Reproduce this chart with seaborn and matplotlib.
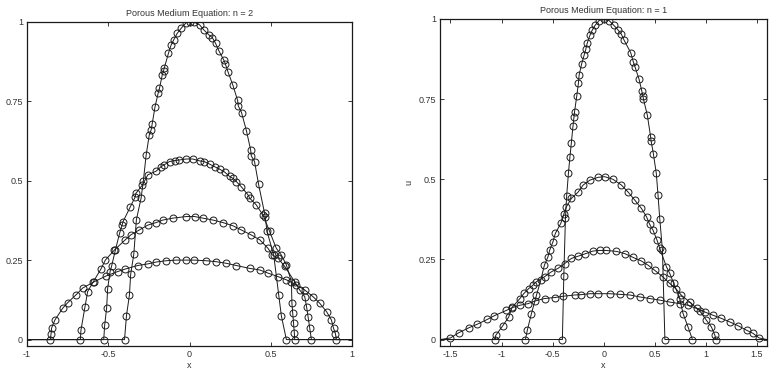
import numpy as np
import matplotlib
matplotlib.use('Agg')
import matplotlib.pyplot as plt
import seaborn as sns

# Left panel: n = 2
n2_a_x = [-0.40, -0.388, -0.37, -0.362, -0.343, -0.327, -0.298, -0.284, -0.267, -0.248, -0.236, -0.23, -0.212,
          -0.193, -0.185, -0.168, -0.160, -0.156, -0.13, -0.113, -0.097, -0.076, -0.05, -0.02, 0.0, 0.03, 0.062,
          0.088, 0.12, 0.14, 0.16, 0.18, 0.21, 0.22, 0.236, 0.267, 0.296, 0.30, 0.32, 0.35, 0.376, 0.38, 0.40,
          0.425, 0.462, 0.466, 0.477, 0.518, 0.549, 0.565, 0.596]
n2_a_u = [0, 0.075, 0.14, 0.206, 0.268, 0.377, 0.445, 0.50, 0.58, 0.643, 0.66, 0.678, 0.733,
          0.775, 0.79, 0.832, 0.845, 0.853, 0.90, 0.927, 0.943, 0.963, 0.98, 0.997, 1.0, 0.998, 0.99,
          0.974, 0.958, 0.95, 0.932, 0.909, 0.88, 0.868, 0.843, 0.80, 0.752, 0.735, 0.714, 0.657, 0.597, 0.578, 0.56,
          0.488, 0.397, 0.385, 0.34, 0.266, 0.14, 0.075, 0]

n2_b_x = [-0.528, -0.522, -0.51, -0.504, -0.489, -0.48, -0.456, -0.43, -0.415, -0.41, -0.366, -0.335, -0.33,
          -0.29, -0.257, -0.205, -0.175, -0.155, -0.123, -0.09, -0.062, -0.02, 0.02, 0.062, 0.09, 0.123, 0.154,
          0.185, 0.216, 0.247, 0.267, 0.288, 0.318, 0.36, 0.37, 0.41, 0.452, 0.493, 0.534, 0.565, 0.596, 0.627,
          0.630, 0.635, 0.64, 0.645, 0.647]
n2_b_u = [0, 0.046, 0.10, 0.16, 0.214, 0.23, 0.282, 0.335, 0.36, 0.37, 0.416, 0.448, 0.46,
          0.486, 0.518, 0.53, 0.544, 0.55, 0.56, 0.563, 0.565, 0.568, 0.568, 0.562, 0.56, 0.552, 0.544,
          0.536, 0.527, 0.513, 0.507, 0.497, 0.481, 0.455, 0.445, 0.424, 0.392, 0.34, 0.287, 0.266, 0.235, 0.182,
          0.115, 0.083, 0.052, 0.02, 0]

n2_c_x = [-0.672, -0.668, -0.643, -0.627, -0.592, -0.545, -0.518, -0.462, -0.395, -0.36, -0.308, -0.257, -0.206,
          -0.164, -0.103, -0.02, 0.031, 0.082, 0.144, 0.206, 0.267, 0.318, 0.38, 0.432, 0.483, 0.51, 0.545, 0.586,
          0.647, 0.678, 0.709, 0.72, 0.73, 0.74, 0.75]
n2_c_u = [0, 0.03, 0.104, 0.151, 0.182, 0.222, 0.25, 0.282, 0.314, 0.33, 0.345, 0.36, 0.368,
          0.376, 0.382, 0.387, 0.387, 0.382, 0.376, 0.368, 0.358, 0.345, 0.329, 0.314, 0.287, 0.266, 0.256, 0.23,
          0.182, 0.156, 0.135, 0.104, 0.07, 0.035, 0]

n2_d_x = [-0.857, -0.852, -0.849, -0.828, -0.78, -0.75, -0.70, -0.658, -0.586, -0.514, -0.442, -0.395, -0.319,
          -0.257, -0.205, -0.144, -0.082, -0.02, 0.03, 0.103, 0.164, 0.226, 0.288, 0.37, 0.432, 0.483, 0.545,
          0.596, 0.658, 0.709, 0.76, 0.80, 0.843, 0.873, 0.886, 0.898, 0.904]
n2_d_u = [0, 0.018, 0.036, 0.062, 0.099, 0.116, 0.14, 0.162, 0.182, 0.20, 0.214, 0.222, 0.233,
          0.238, 0.244, 0.248, 0.25, 0.25, 0.25, 0.248, 0.245, 0.24, 0.233, 0.224, 0.219, 0.209, 0.198,
          0.188, 0.172, 0.156, 0.135, 0.115, 0.088, 0.062, 0.036, 0.018, 0]

# Right panel: n = 1
n1_a_x = [-0.404, -0.39, -0.374, -0.362, -0.345, -0.33, -0.316, -0.30, -0.29, -0.285, -0.263, -0.247, -0.24,
          -0.215, -0.192, -0.175, -0.16, -0.133, -0.11, -0.084, -0.045, 0.0, 0.053, 0.10, 0.14, 0.174, 0.20,
          0.265, 0.29, 0.307, 0.347, 0.373, 0.385, 0.39, 0.428, 0.46, 0.465, 0.487, 0.516, 0.533, 0.55, 0.576, 0.60]
n1_a_u = [0, 0.198, 0.38, 0.448, 0.518, 0.57, 0.614, 0.666, 0.695, 0.71, 0.76, 0.80, 0.825,
          0.86, 0.886, 0.905, 0.925, 0.95, 0.966, 0.98, 0.995, 1.0, 0.995, 0.98, 0.966, 0.952, 0.934,
          0.895, 0.867, 0.851, 0.812, 0.776, 0.76, 0.75, 0.70, 0.633, 0.62, 0.58, 0.518, 0.45, 0.376, 0.279, 0]

n1_b_x = [-0.766, -0.746, -0.707, -0.658, -0.616, -0.58, -0.545, -0.528, -0.496, -0.473, -0.42, -0.388, -0.365,
          -0.316, -0.25, -0.20, -0.136, -0.055, 0.01, 0.09, 0.174, 0.24, 0.305, 0.37, 0.42, 0.45, 0.484, 0.523,
          0.55, 0.615, 0.648, 0.687, 0.745, 0.778, 0.827, 0.87]
n1_b_u = [0, 0.031, 0.081, 0.138, 0.185, 0.232, 0.258, 0.279, 0.305, 0.331, 0.362, 0.393, 0.414,
          0.44, 0.46, 0.482, 0.497, 0.506, 0.508, 0.50, 0.482, 0.46, 0.435, 0.409, 0.383, 0.36, 0.341, 0.31,
          0.284, 0.227, 0.206, 0.175, 0.128, 0.081, 0.039, 0]

n1_c_x = [-1.062, -1.057, -0.99, -0.93, -0.897, -0.82, -0.78, -0.734, -0.69, -0.66, -0.578, -0.513, -0.447,
          -0.382, -0.316, -0.25, -0.185, -0.104, -0.04, 0.02, 0.125, 0.207, 0.29, 0.37, 0.435, 0.50, 0.582,
          0.647, 0.706, 0.762, 0.843, 0.94, 1.007, 1.056, 1.09, 1.10]
n1_c_u = [0, 0.013, 0.042, 0.07, 0.10, 0.128, 0.144, 0.159, 0.17, 0.18, 0.196, 0.211, 0.222,
          0.237, 0.253, 0.26, 0.267, 0.276, 0.278, 0.278, 0.275, 0.268, 0.256, 0.245, 0.232, 0.216, 0.195,
          0.175, 0.159, 0.138, 0.117, 0.09, 0.06, 0.039, 0.013, 0]

n1_d_x = [-1.50, -1.42, -1.318, -1.236, -1.138, -1.073, -0.952, -0.90, -0.82, -0.74, -0.675, -0.578, -0.48,
          -0.398, -0.283, -0.22, -0.136, -0.055, 0.06, 0.157, 0.255, 0.353, 0.45, 0.55, 0.646, 0.744, 0.825,
          0.91, 0.99, 1.07, 1.153, 1.235, 1.317, 1.40, 1.465, 1.522]
n1_d_u = [0.005, 0.021, 0.037, 0.048, 0.063, 0.074, 0.091, 0.099, 0.107, 0.112, 0.12, 0.128, 0.131,
          0.135, 0.139, 0.14, 0.143, 0.143, 0.143, 0.141, 0.139, 0.133, 0.128, 0.123, 0.117, 0.112, 0.107,
          0.097, 0.086, 0.076, 0.066, 0.055, 0.043, 0.029, 0.019, 0.005]

left_domain = [-1, 1]
right_domain = [-1.6, 1.6]
u_ticks = [0, 0.25, 0.5, 0.75, 1]
u_ticklabels = ['0', '0.25', '0.5', '0.75', '1']
left_xticks = [-1, -0.5, 0, 0.5, 1]
left_xticklabels = ['-1', '-0.5', '0', '0.5', '1']
right_xticks = [-1.5, -1, -0.5, 0, 0.5, 1, 1.5]
right_xticklabels = ['-1.5', '-1', '-0.5', '0', '0.5', '1', '1.5']

sns.set_theme(style='ticks')
plt.rcParams['font.family'] = ['Liberation Sans', 'DejaVu Sans']
plt.rcParams['axes.unicode_minus'] = False

fig = plt.figure(figsize=(7.72, 3.70), dpi=100)
ax1 = fig.add_axes([0.035, 0.065, 0.421, 0.8765])
ax2 = fig.add_axes([0.5703, 0.065, 0.4232, 0.8838])


def draw_curve(ax, xs, us, domain):
    # pad with the zero state out to the domain edges, markers only on the data
    x = [domain[0]] + list(xs) + [domain[1]]
    u = [0] + list(us) + [0]
    sns.lineplot(x=x, y=u, ax=ax, color='k', lw=0.7, sort=False, estimator=None,
                 marker='o', markersize=5, markerfacecolor='none',
                 markeredgecolor='k', markeredgewidth=0.7, markevery=slice(1, -1))


for xs, us in [(n2_a_x, n2_a_u), (n2_b_x, n2_b_u), (n2_c_x, n2_c_u), (n2_d_x, n2_d_u)]:
    draw_curve(ax1, xs, us, left_domain)
for xs, us in [(n1_a_x, n1_a_u), (n1_b_x, n1_b_u), (n1_c_x, n1_c_u), (n1_d_x, n1_d_u)]:
    draw_curve(ax2, xs, us, right_domain)

for ax, dom, xt, xtl, title in [(ax1, left_domain, left_xticks, left_xticklabels, 'Porous Medium Equation: n = 2'),
                                (ax2, right_domain, right_xticks, right_xticklabels, 'Porous Medium Equation: n = 1')]:
    ax.set_xlim(dom)
    ax.set_ylim(-0.02, 1)
    ax.set_xticks(xt)
    ax.set_xticklabels(xtl)
    ax.set_yticks(u_ticks)
    ax.set_yticklabels(u_ticklabels)
    ax.tick_params(direction='in', top=True, right=True, length=3, width=0.6,
                   labelsize=6.5, pad=3, colors='k')
    ax.tick_params(axis='x', labelcolor='#333333')
    ax.tick_params(axis='y', labelcolor='#333333')
    for s in ax.spines.values():
        s.set_linewidth(0.9)
        s.set_color('k')
    ax.set_title(title, fontsize=6.5, pad=4, color='#333333')
    ax.set_xlabel('x', fontsize=6.5, labelpad=1, color='#333333')
    ax.set_ylabel('u', fontsize=6.5, labelpad=4, color='#333333')

fig.savefig('out.png', dpi=100)
